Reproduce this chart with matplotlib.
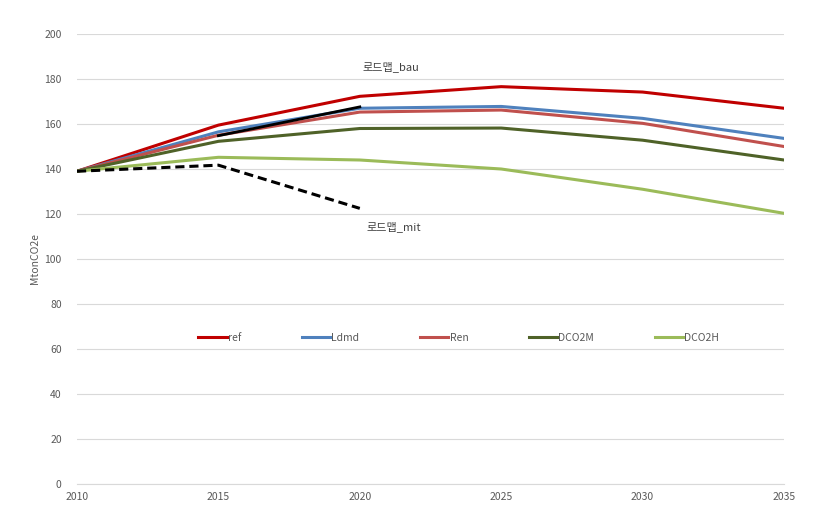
import matplotlib
matplotlib.use("Agg")
import matplotlib.pyplot as plt

plt.rcParams['font.family'] = ['Noto Sans CJK KR', 'DejaVu Sans']

years = [2010, 2015, 2020, 2025, 2030, 2035]
ref = [139, 159.5, 172.3, 176.6, 174.2, 167]
ldmd = [139, 156.5, 167, 167.8, 162.5, 153.6]
ren = [139, 155, 165.3, 166.2, 160.3, 150]
dco2m = [139, 152.3, 158, 158.2, 152.8, 144]
dco2h = [139, 145.2, 144, 140, 131, 120.3]

bau_years = [2015, 2020]
road_bau = [154.8, 167.6]
mit_years = [2010, 2015, 2020]
road_mit = [139, 141.7, 122.5]

series_names = ['ref', 'Ldmd', 'Ren', 'DCO2M', 'DCO2H']
series_vals = [ref, ldmd, ren, dco2m, dco2h]
colors = ['#C00000', '#4F81BD', '#C0504D', '#4F6228', '#9BBB59']

yticks = list(range(0, 201, 20))

fig = plt.figure(figsize=(8.28, 5.18), dpi=100)
ax = fig.add_axes([77/828, 1 - 484/518, (784-77)/828, (484-34)/518])

lines = []
for name, vals, c in zip(series_names, series_vals, colors):
    l, = ax.plot(years, vals, color=c, lw=2.2, label=name, zorder=3)
    lines.append(l)
ax.plot(bau_years, road_bau, color='black', lw=2.0, zorder=3.5)
ax.plot(mit_years, road_mit, color='black', lw=2.2, ls=(0, (3, 1.6)), zorder=4)

ax.text(2020 + 31/141.6*5, 185.5, '로드맵_bau', fontsize=8, color='#404040', ha='center', va='center')
ax.text(2020 + 34/141.6*5, 114.5, '로드맵_mit', fontsize=8, color='#404040', ha='center', va='center')

ax.set_xlim(2010, 2035)
ax.set_ylim(0, 200)
ax.set_xticks(years)
ax.set_yticks(yticks)
ax.grid(axis='y', color='#D9D9D9', lw=0.8)
ax.set_axisbelow(True)
for s in ['top', 'right', 'left']:
    ax.spines[s].set_visible(False)
ax.spines['bottom'].set_color('#D9D9D9')
ax.tick_params(axis='both', length=0, labelsize=7.5, labelcolor='#595959')
ax.tick_params(axis='y', pad=11)
ax.tick_params(axis='x', pad=6)
ax.set_ylabel('MtonCO2e', fontsize=7.5, color='#595959', labelpad=3)

leg = ax.legend(handles=lines, loc='center', bbox_to_anchor=(0.54, 65/200), ncol=5,
                frameon=False, fontsize=7.5, handlelength=2.7, handletextpad=0.15,
                columnspacing=5.8)
for t in leg.get_texts():
    t.set_color('#595959')

fig.savefig('out.png', dpi=100)
